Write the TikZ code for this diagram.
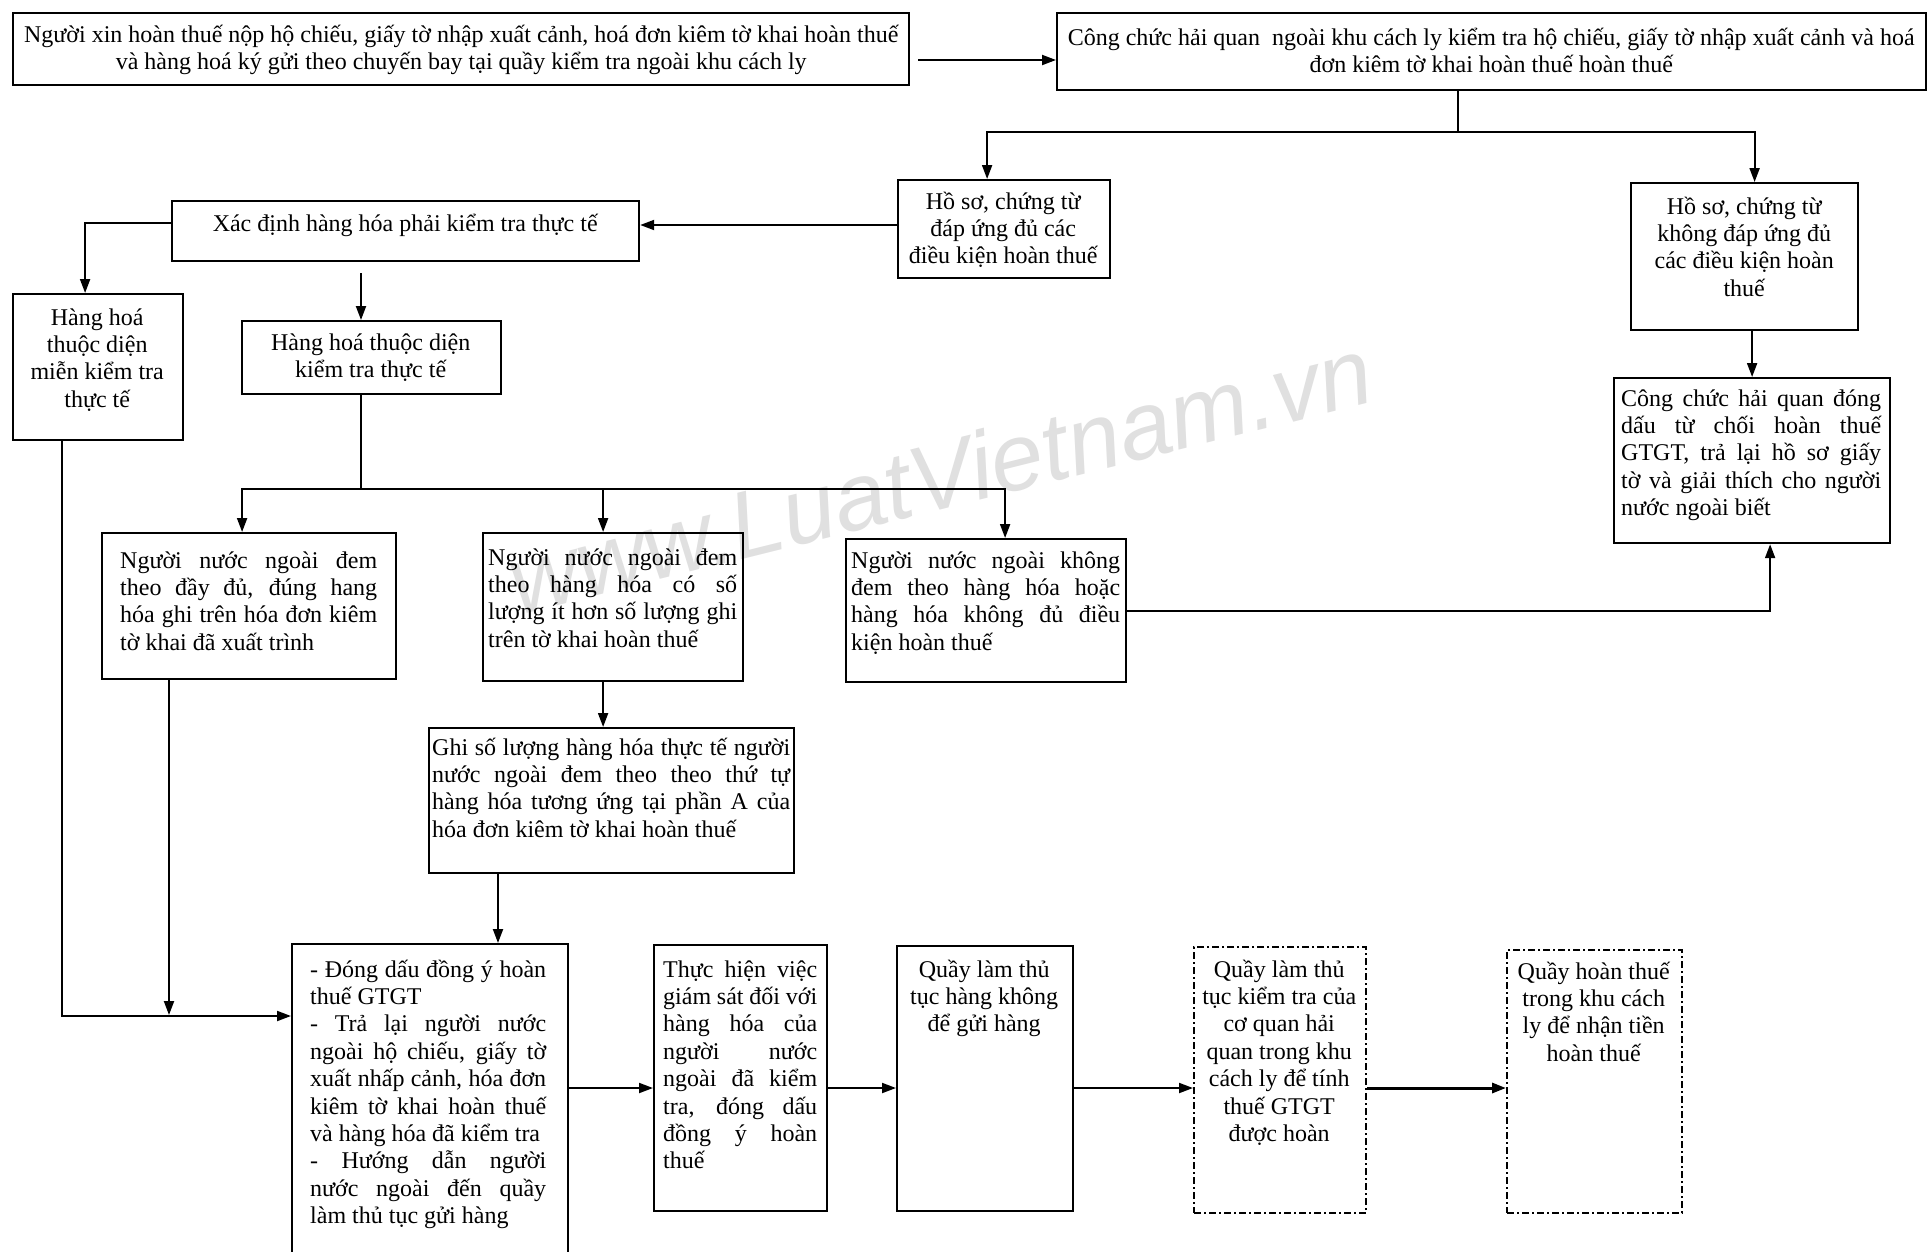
\documentclass[tikz,border=0pt]{standalone}
\usepackage{fontspec}
\setmainfont{Liberation Serif}
\newfontfamily\wmfont{Liberation Sans}
\usetikzlibrary{arrows.meta}
\newcommand\tjust[1]{\hbox to \hsize{#1}}
\newcommand\tcent[1]{\hbox to \hsize{\hss#1\hss}}
\newcommand\tleft[1]{\hbox to \hsize{#1\hfil}}
\newcommand\tb[2]{\vtop{\hsize=#1\relax\lineskiplimit=-100pt\relax #2}}
\newcommand\bx[6][box]{\node[#1, minimum width={#5pt-#3pt}, minimum height={#6pt-#4pt}] (#2) at (#3,#4) {};}
\begin{document}
\begin{tikzpicture}[x=1pt,y=-1pt,
  box/.style={draw, line width=2.2pt, inner sep=0pt, anchor=north west},
  dbox/.style={box, line width=2pt, dash pattern=on 7pt off 3pt on 2pt off 3pt},
  txt/.style={inner sep=0pt, anchor=base west, font=\fontsize{24}{27.4}\selectfont},
  ln/.style={line width=2pt},
  arr/.style={line width=2pt, -{Triangle[length=14pt,width=10pt]}},
]
\useasboundingbox (0,0) rectangle (1932,1251);
\fill[white] (0,0) rectangle (1932,1251);
\clip (0,0) rectangle (1932,1251);

\node[rotate=14, text=black!12, font=\wmfont\itshape\fontsize{95}{95}\selectfont, inner sep=0pt] (wm) at (940,475) {www.LuatVietnam.vn};

% boxes
\bx{A}{12}{12}{908}{84}
\bx{B}{1056}{12}{1925}{89}
\bx{C}{897}{179}{1109}{277}
\bx{D}{1630}{182}{1857}{329}
\bx{E}{1613}{377}{1889}{542}
\bx{F}{171}{200}{638}{260}
\bx{G}{12}{293}{182}{439}
\bx{H}{241}{320}{500}{393}
\bx{I1}{101}{532}{395}{678}
\bx{I2}{482}{532}{742}{680}
\bx{I3}{845}{538}{1125}{681}
\bx{J}{428}{727}{793}{872}
\bx{K}{291}{943}{567}{1275}
\bx{L}{653}{944}{826}{1210}
\bx{M}{896}{945}{1072}{1210}
\bx[dbox]{N}{1193}{946}{1365}{1212}
\bx[dbox]{O}{1506}{949}{1681}{1212}

% texts
\node[txt] (tA) at (20,42) {\tb{882pt}{\tcent{Người xin hoàn thuế nộp hộ chiếu, giấy tờ nhập xuất cảnh, hoá đơn kiêm tờ khai hoàn thuế}\tcent{và hàng hoá ký gửi theo chuyến bay tại quầy kiểm tra ngoài khu cách ly}}};
\node[txt] (tB) at (1064,45) {\tb{854pt}{\tcent{Công chức hải quan \ ngoài khu cách ly kiểm tra hộ chiếu, giấy tờ nhập xuất cảnh và hoá}\tcent{đơn kiêm tờ khai hoàn thuế hoàn thuế}}};
\node[txt] (tC) at (903,209) {\tb{200pt}{\tcent{Hồ sơ, chứng từ}\tcent{đáp ứng đủ các}\tcent{điều kiện hoàn thuế}}};
\node[txt] (tD) at (1636,214) {\tb{216pt}{\tcent{Hồ sơ, chứng từ}\tcent{không đáp ứng đủ}\tcent{các điều kiện hoàn}\tcent{thuế}}};
\node[txt] (tE) at (1621,406) {\tb{260pt}{\tjust{Công chức hải quan đóng}\tjust{dấu từ chối hoàn thuế}\tjust{GTGT, trả lại hồ sơ giấy}\tjust{tờ và giải thích cho người}\tleft{nước ngoài biết}}};
\node[txt] (tF) at (180,231) {\tb{450pt}{\tcent{Xác định hàng hóa phải kiểm tra thực tế}}};
\node[txt] (tG) at (17,325) {\tb{160pt}{\tcent{Hàng hoá}\tcent{thuộc diện}\tcent{miễn kiểm tra}\tcent{thực tế}}};
\node[txt] (tH) at (246,350) {\tb{249pt}{\tcent{Hàng hoá thuộc diện}\tcent{kiểm tra thực tế}}};
\node[txt] (tI1) at (120,568) {\tb{257pt}{\tjust{Người nước ngoài đem}\tjust{theo đầy đủ, đúng hang}\tjust{hóa ghi trên hóa đơn kiêm}\tleft{tờ khai đã xuất trình}}};
\node[txt] (tI2) at (488,565) {\tb{249pt}{\tjust{Người nước ngoài đem}\tjust{theo hàng hóa có số}\tjust{lượng ít hơn số lượng ghi}\tleft{trên tờ khai hoàn thuế}}};
\node[txt] (tI3) at (851,568) {\tb{269pt}{\tjust{Người nước ngoài không}\tjust{đem theo hàng hóa hoặc}\tjust{hàng hóa không đủ điều}\tleft{kiện hoàn thuế}}};
\node[txt] (tJ) at (432,755) {\tb{358pt}{\tjust{Ghi số lượng hàng hóa thực tế người}\tjust{nước ngoài đem theo theo thứ tự}\tjust{hàng hóa tương ứng tại phần A của}\tleft{hóa đơn kiêm tờ khai hoàn thuế}}};
\node[txt] (tK) at (310,977) {\tb{236pt}{\tjust{- Đóng dấu đồng ý hoàn}\tleft{thuế GTGT}\tjust{- Trả lại người nước}\tjust{ngoài hộ chiếu, giấy tờ}\tjust{xuất nhấp cảnh, hóa đơn}\tjust{kiêm tờ khai hoàn thuế}\tleft{và hàng hóa đã kiểm tra}\tjust{- Hướng dẫn người}\tjust{nước ngoài đến quầy}\tleft{làm thủ tục gửi hàng}}};
\node[txt] (tL) at (663,977) {\tb{154pt}{\tjust{Thực hiện việc}\tjust{giám sát đối với}\tjust{hàng hóa của}\tjust{người nước}\tjust{ngoài đã kiểm}\tjust{tra, đóng dấu}\tjust{đồng ý hoàn}\tleft{thuế}}};
\node[txt] (tM) at (901,977) {\tb{166pt}{\tcent{Quầy làm thủ}\tcent{tục hàng không}\tcent{để gửi hàng}}};
\node[txt] (tN) at (1198,977) {\tb{162pt}{\tcent{Quầy làm thủ}\tcent{tục kiểm tra của}\tcent{cơ quan hải}\tcent{quan trong khu}\tcent{cách ly để tính}\tcent{thuế GTGT}\tcent{được hoàn}}};
\node[txt] (tO) at (1511,979) {\tb{165pt}{\tcent{Quầy hoàn thuế}\tcent{trong khu cách}\tcent{ly để nhận tiền}\tcent{hoàn thuế}}};

% connectors
\coordinate (yAB) at (0,60);
\draw[arr, shorten <=8pt] (A.east |- yAB) -- (B.west |- yAB);
\coordinate (jB) at (1458,132);
\draw[ln] (B.south -| jB) -- (jB);
\draw[arr] (jB) -| ([xshift=-17pt]C.north);
\draw[arr] (jB) -| ([xshift=10pt]D.north);
\draw[arr] (D.south -| E.north) -- (E.north);
\draw[arr] (I3.east) -| ([xshift=18pt]E.south);
\coordinate (yCF) at (0,225);
\draw[arr] (C.west |- yCF) -- (F.east |- yCF);
\coordinate (yFG) at (0,223);
\draw[arr] (F.west |- yFG) -| ([xshift=-13pt]G.north);
\coordinate (xFH) at (361,0);
\draw[arr] ([yshift=-11pt]F.south -| xFH) -- (H.north -| xFH);
\coordinate (jH) at (361,489);
\draw[ln] (H.south -| jH) -- (jH);
\draw[arr] (jH) -| ([xshift=-7pt]I1.north);
\draw[arr] (jH) -| ([xshift=-10pt]I2.north);
\draw[arr] (jH) -| ([xshift=19pt]I3.north);
\draw[arr] ([xshift=-10pt]I2.south) -- ([xshift=-10pt]I2.south |- J.north);
\coordinate (xJK) at (498,0);
\draw[arr] (J.south -| xJK) -- (K.north -| xJK);
\coordinate (jG) at (62,1016);
\draw[arr] (G.south -| jG) -- (jG) -- (K.west |- jG);
\coordinate (xI1) at (169,0);
\draw[arr, shorten >=1pt] (I1.south -| xI1) -- (xI1 |- jG);
\coordinate (yBot) at (0,1088);
\draw[arr] (K.east |- yBot) -- (L.west |- yBot);
\draw[arr] (L.east |- yBot) -- (M.west |- yBot);
\draw[arr] (M.east |- yBot) -- (N.west |- yBot);
\draw[arr, line width=3pt] (N.east |- yBot) -- (O.west |- yBot);
\end{tikzpicture}
\end{document}
